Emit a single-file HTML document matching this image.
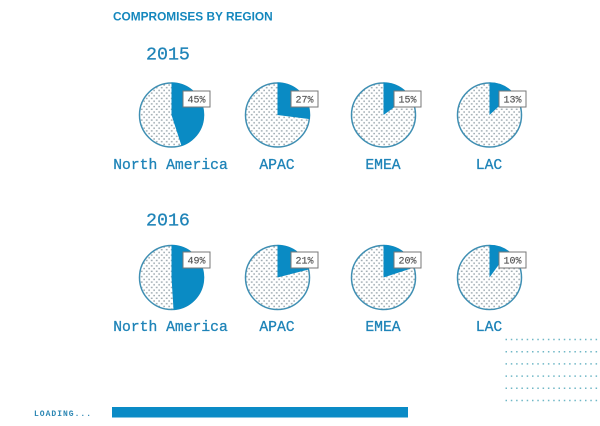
<!DOCTYPE html>
<html>
<head>
<meta charset="utf-8">
<style>
html,body{margin:0;padding:0;background:#fff;}
#stage{display:block;width:600px;height:426px;}
.mono{font-family:"Liberation Mono",monospace;}
</style>
</head>
<body>
<svg id="stage" xmlns="http://www.w3.org/2000/svg" width="600" height="426" viewBox="0 0 600 426">
  <defs>
    <pattern id="dots" width="5" height="5.4" patternUnits="userSpaceOnUse">
      <rect x="0.8" y="0.6" width="1.8" height="1.4" fill="#9fabb2"/>
      <rect x="3.3" y="3.3" width="1.8" height="1.4" fill="#9fabb2"/>
    </pattern>
  </defs>
  <text x="113" y="20.5" font-family="'Liberation Sans',sans-serif" font-weight="700" font-size="11.85" fill="#1487bd">COMPROMISES BY REGION</text>
  <g id="charts"></g>
  <g id="dotfield"></g>
  <text class="mono" x="34" y="416" font-size="8" font-weight="700" letter-spacing="1" fill="#2b86b3">LOADING...</text>
  <rect x="112" y="407" width="296" height="10.5" fill="#0a8bc6"/>
</svg>
<script>
var years = ['2015', '2016'];
var regions = ['North America', 'APAC', 'EMEA', 'LAC'];
var values2015 = [45, 27, 15, 13];
var values2016 = [49, 21, 20, 10];

var NS = 'http://www.w3.org/2000/svg';
var root = document.getElementById('charts');
var colX = [171.5, 277.5, 383.5, 489.5];
var boxOffset = [11.5, 13.5, 10.5, 9.5];
var rowY = [115, 277.5];
var boxY = [91, 252];
var yearY = [59.5, 225.5];
var labelY = [169, 331];
var R = 32;

function make(tag, attrs, parent) {
  var el = document.createElementNS(NS, tag);
  for (var k in attrs) { el.setAttribute(k, attrs[k]); }
  parent.appendChild(el);
  return el;
}
function angleOf(pct) { return pct / 100 * 2 * Math.PI; }
function wedgePath(cx, cy, r, pct) {
  var a = angleOf(pct);
  var x = cx + r * Math.sin(a);
  var y = cy - r * Math.cos(a);
  var large = pct > 50 ? 1 : 0;
  return 'M' + cx + ' ' + cy + 'L' + cx + ' ' + (cy - r) + 'A' + r + ' ' + r + ' 0 ' + large + ' 1 ' + x + ' ' + y + 'Z';
}

[values2015, values2016].forEach(function (series, row) {
  var yr = make('text', {x: 146, y: yearY[row], 'class': 'mono', 'font-size': 18.3, fill: '#1f84b8', stroke: '#1f84b8', 'stroke-width': 0.25}, root);
  
  
  yr.textContent = years[row];

  series.forEach(function (v, i) {
    var cx = colX[i], cy = rowY[row];
    var slug = regions[i].toLowerCase().replace(/ /g, '-') + '-' + years[row];

    var g = make('g', {}, root);
    
    

    var base = make('circle', {cx: cx, cy: cy, r: R, fill: '#fff'}, g);
    
    

    var dots = make('circle', {cx: cx, cy: cy, r: R, fill: 'url(#dots)', stroke: '#3f8fb3', 'stroke-width': 1.5}, g);
    
    

    var wedge = make('path', {d: wedgePath(cx, cy, R + 0.6, v), fill: '#0a8bc4'}, g);
    
    

    var box = make('rect', {x: cx + boxOffset[i], y: boxY[row], width: 27, height: 16, fill: '#fff', stroke: '#777', 'stroke-width': 1}, g);
    
    

    var val = make('text', {x: cx + boxOffset[i] + 13.5, y: boxY[row] + 11.3, 'text-anchor': 'middle', 'class': 'mono', 'font-size': 10, fill: '#555', stroke: '#555', 'stroke-width': 0.15}, g);
    
    
    val.textContent = v + '%';

    var name = make('text', {x: cx - (i === 0 ? 1 : 0.5), y: labelY[row], 'text-anchor': 'middle', 'class': 'mono', 'font-size': 14.7, fill: '#1f84b8', stroke: '#1f84b8', 'stroke-width': 0.3}, g);
    
    
    name.textContent = regions[i];
  });
});

var field = document.getElementById('dotfield');
for (var r = 0; r < 6; r++) {
  var dotRow = make('line', {x1: 505.5, x2: 600, y1: 339.5 + r * 12.2, y2: 339.5 + r * 12.2, stroke: '#6fb7c6', 'stroke-width': 1.5, 'stroke-dasharray': '1.5 3.8'}, field);
  
  
}
</script>
</body>
</html>
